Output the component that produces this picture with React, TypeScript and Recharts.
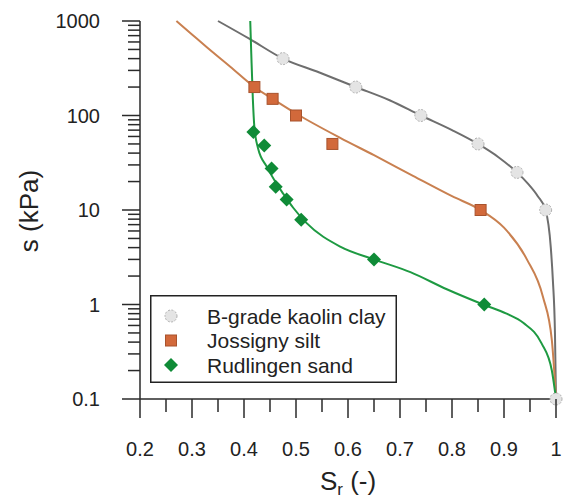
import React from 'react';
import { ScatterChart, Scatter, XAxis, YAxis, Legend } from 'recharts';

// measured points (Sr, s in kPa)
const kaolinPoints = [
  { sr: 0.475, s: 400 },
  { sr: 0.615, s: 200 },
  { sr: 0.74, s: 100 },
  { sr: 0.85, s: 50 },
  { sr: 0.925, s: 25 },
  { sr: 0.98, s: 10 },
  { sr: 1.0, s: 0.1 },
];

const jossignyPoints = [
  { sr: 0.42, s: 200 },
  { sr: 0.455, s: 150 },
  { sr: 0.5, s: 100 },
  { sr: 0.57, s: 50 },
  { sr: 0.855, s: 10 },
];

const rudlingenPoints = [
  { sr: 0.418, s: 67 },
  { sr: 0.439, s: 48 },
  { sr: 0.453, s: 27.5 },
  { sr: 0.461, s: 17.6 },
  { sr: 0.482, s: 12.9 },
  { sr: 0.51, s: 7.9 },
  { sr: 0.65, s: 3 },
  { sr: 0.862, s: 1 },
];

// fitted curves
const kaolinFit = [
  { sr: 0.35, s: 1000 },
  { sr: 0.41, s: 650 },
  { sr: 0.475, s: 400 },
  { sr: 0.545, s: 285 },
  { sr: 0.615, s: 200 },
  { sr: 0.68, s: 145 },
  { sr: 0.74, s: 100 },
  { sr: 0.8, s: 70 },
  { sr: 0.85, s: 50 },
  { sr: 0.89, s: 36 },
  { sr: 0.925, s: 25 },
  { sr: 0.946, s: 19 },
  { sr: 0.965, s: 14 },
  { sr: 0.98, s: 10 },
  { sr: 0.99, s: 4 },
  { sr: 0.994, s: 1.8 },
  { sr: 0.998, s: 0.5 },
  { sr: 1.0, s: 0.1 },
];

const jossignyFit = [
  { sr: 0.27, s: 1000 },
  { sr: 0.3, s: 720 },
  { sr: 0.328, s: 530 },
  { sr: 0.373, s: 330 },
  { sr: 0.42, s: 200 },
  { sr: 0.455, s: 150 },
  { sr: 0.5, s: 105 },
  { sr: 0.585, s: 58 },
  { sr: 0.65, s: 38 },
  { sr: 0.725, s: 23 },
  { sr: 0.8, s: 14 },
  { sr: 0.855, s: 10 },
  { sr: 0.9, s: 6.5 },
  { sr: 0.944, s: 3 },
  { sr: 0.975, s: 1.2 },
  { sr: 0.992, s: 0.42 },
  { sr: 1.0, s: 0.1 },
];

const rudlingenFit = [
  { sr: 0.412, s: 1000 },
  { sr: 0.414, s: 450 },
  { sr: 0.417, s: 150 },
  { sr: 0.42, s: 75 },
  { sr: 0.427, s: 45 },
  { sr: 0.444, s: 28.6 },
  { sr: 0.46, s: 20 },
  { sr: 0.475, s: 15 },
  { sr: 0.495, s: 10.5 },
  { sr: 0.52, s: 7.3 },
  { sr: 0.585, s: 4.1 },
  { sr: 0.65, s: 3.0 },
  { sr: 0.72, s: 2.2 },
  { sr: 0.79, s: 1.45 },
  { sr: 0.86, s: 1.0 },
  { sr: 0.905, s: 0.8 },
  { sr: 0.937, s: 0.64 },
  { sr: 0.972, s: 0.39 },
  { sr: 0.992, s: 0.2 },
  { sr: 1.0, s: 0.1 },
];

const xMajorTicks = [0.2, 0.3, 0.4, 0.5, 0.6, 0.7, 0.8, 0.9, 1];
const xMinorTicks = [0.25, 0.35, 0.45, 0.55, 0.65, 0.75, 0.85, 0.95];
const yMajorTicks = [0.1, 1, 10, 100, 1000];
const yMinorFactors = [2, 3, 4, 5, 6, 7, 8, 9];

const legendLabels = ['B-grade kaolin clay', 'Jossigny silt', 'Rudlingen sand'];

const FONT = '"Liberation Sans", Arial, sans-serif';
const AXIS = '#2a2a2a';

const xTicks = [...xMajorTicks, ...xMinorTicks].sort((a, b) => a - b);
const yTicks = [
  ...yMajorTicks,
  ...yMajorTicks.slice(0, -1).flatMap((d) => yMinorFactors.map((f) => +(d * f).toPrecision(3))),
].sort((a, b) => a - b);

function XTick({ x, y, payload }: any) {
  const major = xMajorTicks.includes(payload.value);
  return (
    <g>
      <line x1={x} x2={x} y1={y} y2={y + (major ? 19 : 13)} stroke={AXIS} strokeWidth={1.5} />
      {major && (
        <text x={x} y={y + 57} textAnchor="middle" fontSize={20} fontFamily={FONT} fill="#222">
          {payload.value}
        </text>
      )}
    </g>
  );
}

function YTick({ x, y, payload }: any) {
  const major = yMajorTicks.includes(payload.value);
  return (
    <g>
      <line x1={x - (major ? 18 : 12)} x2={x} y1={y} y2={y} stroke={AXIS} strokeWidth={1.5} />
      {major && (
        <text x={x - 40} y={y + 7} textAnchor="end" fontSize={20} fontFamily={FONT} fill="#222">
          {payload.value}
        </text>
      )}
    </g>
  );
}

function Circle({ cx, cy }: any) {
  return (
    <circle cx={cx} cy={cy} r={6} fill="#e4e4e4" stroke="#b0b0b0" strokeWidth={1} strokeDasharray="2 1.5" />
  );
}

function Square({ cx, cy }: any) {
  return <rect x={cx - 5.5} y={cy - 5.5} width={11} height={11} fill="#d2693b" stroke="#a8532d" strokeWidth={1} />;
}

function Diamond({ cx, cy }: any) {
  return (
    <path d={`M${cx},${cy - 7}L${cx + 7},${cy}L${cx},${cy + 7}L${cx - 7},${cy}Z`} fill="#0f8b37" />
  );
}

const Nothing = () => <g />;

const legendShapes = [Circle, Square, Diamond];

function LegendBox() {
  return (
    <svg width={247} height={88} style={{ display: 'block' }}>
      <rect x={0.75} y={0.75} width={245.5} height={86.5} fill="#fff" stroke="#222" strokeWidth={1.5} />
      {legendLabels.map((label, i) => {
        const Shape = legendShapes[i];
        const cy = 21 + i * 24.5;
        return (
          <g key={label}>
            <Shape cx={21} cy={cy} />
            <text x={57} y={cy + 7.5} fontSize={21} fontFamily={FONT} fill="#222">
              {label}
            </text>
          </g>
        );
      })}
    </svg>
  );
}

export default function App() {
  return (
    <div style={{ position: 'absolute', left: 0, top: 0, background: '#fff' }}>
      <ScatterChart width={563} height={498} margin={{ top: 21, right: 7, bottom: 0, left: 0 }}>
        <XAxis
          type="number"
          dataKey="sr"
          domain={[0.2, 1]}
          ticks={xTicks}
          interval={0}
          tickSize={0}
          tickMargin={0}
          tick={<XTick />}
          tickLine={false}
          height={99}
          axisLine={{ stroke: AXIS, strokeWidth: 1.5 }}
        />
        <YAxis
          type="number"
          dataKey="s"
          scale="log"
          domain={[0.1, 1000]}
          ticks={yTicks}
          interval={0}
          tickSize={0}
          tickMargin={0}
          tick={<YTick />}
          tickLine={false}
          width={140}
          axisLine={{ stroke: AXIS, strokeWidth: 1.5 }}
        />
        <Scatter data={kaolinFit} line={{ stroke: '#6e6e6e', strokeWidth: 2 }} lineJointType="monotoneX" shape={Nothing} isAnimationActive={false} />
        <Scatter data={jossignyFit} line={{ stroke: '#c98050', strokeWidth: 2 }} lineJointType="monotoneX" shape={Nothing} isAnimationActive={false} />
        <Scatter data={rudlingenFit} line={{ stroke: '#1e9a42', strokeWidth: 2 }} lineJointType="monotoneX" shape={Nothing} isAnimationActive={false} />
        <Scatter data={kaolinPoints} shape={Circle} isAnimationActive={false} />
        <Scatter data={jossignyPoints} shape={Square} isAnimationActive={false} />
        <Scatter data={rudlingenPoints} shape={Diamond} isAnimationActive={false} />
        <Legend
          layout="horizontal"
          verticalAlign="middle"
          align="center"
          content={<LegendBox />}
          wrapperStyle={{ left: 150, top: 295, width: 247, height: 88 }}
        />
      </ScatterChart>
      <svg width={563} height={498} style={{ position: 'absolute', left: 0, top: 0, pointerEvents: 'none' }}>
        <text
          transform="translate(38,211) rotate(-90)"
          textAnchor="middle"
          fontSize={26}
          fontFamily={FONT}
          fill="#222"
        >
          s (kPa)
        </text>
        <text x={348} y={490} textAnchor="middle" fontSize={26} fontFamily={FONT} fill="#222">
          S<tspan fontSize={17} dy={5}>r</tspan>
          <tspan dy={-5}> (-)</tspan>
        </text>
      </svg>
    </div>
  );
}
